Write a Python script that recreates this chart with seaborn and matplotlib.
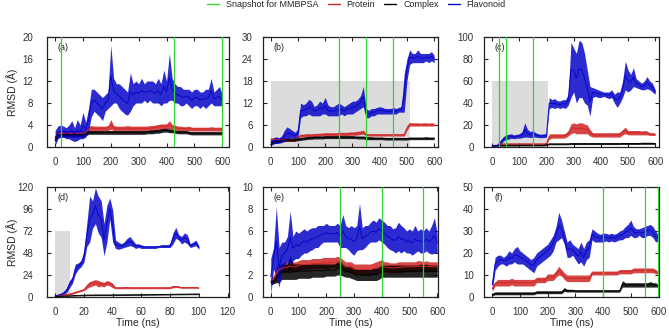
#!/usr/bin/env python3
"""
RMSD traces of protein, complex and flavonoid for six MD runs (a)-(f)
"""
import numpy as np
import pandas as pd
import seaborn as sns
import matplotlib.pyplot as plt
from matplotlib.lines import Line2D
from matplotlib.patches import Rectangle

# time grids (ns)
time_600 = np.arange(0, 601, 10)
time_100 = np.arange(0, 101, 2)

# ---- panel (a): lower / upper edge of each noisy trace ----
a_flav_lo = [0.3, 1.5, 1.8, 1.8, 1.5, 1.5, 1.2, 1.0, 1.2, 1.5,
             1.5, 1.8, 3.0, 5.5, 6.5, 6.0, 5.5, 4.8, 6.5, 7.0,
             7.5, 8.0, 8.0, 7.0, 6.5, 6.0, 5.8, 6.5, 7.5, 8.0,
             8.0, 8.0, 8.5, 8.0, 8.5, 8.0, 8.0, 8.0, 7.5, 8.0,
             8.0, 8.5, 8.5, 8.0, 8.0, 7.5, 7.5, 8.0, 7.5, 7.0,
             7.5, 7.5, 7.0, 7.5, 7.0, 7.5, 8.0, 7.5, 7.5, 7.5,
             7.5]
a_flav_hi = [3.0, 3.8, 4.0, 3.8, 3.5, 4.0, 4.8, 3.5, 5.0, 4.0,
             6.3, 4.5, 7.0, 10.5, 10.5, 10.0, 9.5, 9.0, 9.5, 10.0,
             18.5, 12.5, 11.5, 11.5, 11.0, 10.5, 10.0, 13.5, 11.5, 12.0,
             11.5, 12.5, 11.5, 12.0, 12.0, 12.0, 11.5, 12.5, 11.5, 14.0,
             12.0, 17.0, 12.5, 11.5, 11.0, 11.0, 10.5, 10.5, 10.5, 10.0,
             10.5, 10.5, 10.0, 10.0, 10.5, 10.5, 12.5, 10.0, 10.5, 11.0,
             9.5]
a_prot_lo = [1.0, 2.0, 2.0, 2.0, 2.0, 2.0, 2.0, 2.0, 2.0, 2.0,
             2.0, 2.2, 2.8, 3.0, 3.0, 3.0, 3.0, 3.0, 3.0, 3.0,
             3.2, 3.0, 3.0, 3.0, 3.0, 3.0, 3.0, 3.0, 3.0, 3.0,
             3.0, 3.0, 3.0, 3.0, 3.0, 3.0, 3.1, 3.2, 3.2, 3.3,
             3.3, 3.3, 3.2, 3.1, 3.0, 3.0, 3.0, 3.0, 3.0, 2.9,
             2.9, 2.9, 2.9, 2.9, 2.9, 2.9, 2.9, 2.9, 2.9, 2.9,
             2.9]
a_prot_hi = [2.0, 3.0, 3.0, 3.0, 3.0, 3.0, 3.0, 3.0, 3.0, 3.0,
             3.0, 3.2, 3.8, 3.9, 3.8, 3.8, 3.8, 3.8, 3.8, 3.9,
             5.0, 3.9, 3.8, 3.8, 3.8, 3.8, 3.9, 3.8, 3.8, 3.8,
             3.8, 3.8, 3.8, 3.8, 3.9, 3.9, 4.0, 4.1, 4.2, 4.2,
             4.2, 4.8, 4.1, 4.0, 3.8, 3.8, 3.7, 3.7, 3.8, 3.6,
             3.6, 3.6, 3.6, 3.6, 3.6, 3.6, 3.7, 3.6, 3.6, 3.6,
             3.6]
a_cplx_lo = [0.8, 1.8, 1.8, 1.8, 1.8, 1.8, 1.8, 1.8, 1.8, 1.8,
             1.8, 2.0, 2.3, 2.3, 2.3, 2.3, 2.3, 2.3, 2.3, 2.3,
             2.3, 2.3, 2.3, 2.3, 2.3, 2.3, 2.3, 2.3, 2.3, 2.3,
             2.3, 2.3, 2.3, 2.4, 2.4, 2.4, 2.5, 2.5, 2.6, 2.7,
             2.7, 2.6, 2.6, 2.5, 2.4, 2.4, 2.4, 2.4, 2.3, 2.2,
             2.2, 2.2, 2.2, 2.2, 2.2, 2.2, 2.2, 2.2, 2.2, 2.2,
             2.2]
a_cplx_hi = [1.5, 2.6, 2.6, 2.6, 2.6, 2.6, 2.6, 2.6, 2.6, 2.6,
             2.6, 2.7, 3.0, 3.0, 3.0, 3.0, 3.0, 3.0, 3.0, 3.0,
             3.0, 3.0, 3.0, 3.0, 3.0, 3.0, 3.0, 3.0, 3.0, 3.0,
             3.0, 3.0, 3.0, 3.0, 3.1, 3.1, 3.2, 3.2, 3.3, 3.4,
             3.4, 3.3, 3.2, 3.1, 3.0, 3.0, 3.0, 3.0, 2.9, 2.8,
             2.8, 2.8, 2.8, 2.8, 2.8, 2.8, 2.8, 2.8, 2.8, 2.8,
             2.8]

# ---- panel (b) ----
b_flav_lo = [0.5, 0.8, 1.0, 1.0, 1.2, 1.5, 2.0, 2.5, 2.5, 2.0,
             2.5, 8.0, 8.5, 8.5, 9.0, 8.5, 8.5, 8.5, 8.5, 9.0,
             9.0, 8.5, 8.5, 8.5, 8.5, 8.5, 9.0, 8.5, 9.0, 9.0,
             9.0, 9.5, 10.0, 10.5, 11.0, 8.0, 8.0, 8.5, 8.5, 9.0,
             9.0, 9.0, 9.0, 9.0, 9.0, 9.0, 9.0, 9.5, 9.5, 9.5,
             18.0, 22.5, 23.0, 23.0, 23.0, 23.0, 23.0, 23.5, 23.0, 23.5,
             23.0]
b_flav_hi = [2.0, 2.5, 2.8, 2.5, 3.0, 4.5, 5.5, 5.0, 4.5, 4.0,
             5.0, 12.0, 11.5, 12.0, 13.0, 12.5, 11.0, 11.5, 12.5, 12.0,
             13.5, 11.5, 11.0, 11.0, 11.5, 12.0, 11.5, 11.0, 11.5, 12.0,
             12.5, 12.5, 13.0, 14.0, 16.5, 10.5, 10.0, 10.5, 10.5, 10.8,
             11.0, 10.8, 10.5, 10.5, 10.5, 10.8, 10.5, 10.8, 11.0, 20.0,
             24.0, 26.5, 25.5, 25.5, 26.5, 25.5, 25.5, 25.5, 25.5, 26.0,
             25.0]
b_prot_lo = [1.5, 1.5, 1.5, 1.5, 1.5, 1.5, 1.5, 1.5, 1.5, 1.5,
             2.5, 2.7, 2.7, 2.8, 2.8, 2.8, 2.8, 2.9, 2.9, 3.0,
             3.0, 3.0, 3.0, 3.0, 3.0, 3.1, 3.1, 3.1, 3.1, 3.2,
             3.2, 3.2, 3.3, 3.4, 3.5, 3.0, 3.0, 3.0, 3.0, 3.0,
             3.0, 3.0, 3.0, 3.0, 3.0, 3.0, 3.0, 3.0, 3.0, 3.0,
             4.5, 5.7, 5.7, 5.7, 5.7, 5.7, 5.7, 5.7, 5.7, 5.7,
             5.7]
b_prot_hi = [2.5, 2.5, 2.5, 2.5, 2.5, 2.5, 2.5, 2.5, 2.5, 2.5,
             3.0, 3.5, 3.5, 3.6, 3.6, 3.6, 3.7, 3.7, 3.8, 3.8,
             3.9, 3.9, 3.9, 3.9, 3.9, 4.0, 4.0, 4.0, 4.0, 4.1,
             4.1, 4.2, 4.3, 4.4, 4.6, 3.7, 3.6, 3.6, 3.6, 3.6,
             3.6, 3.6, 3.6, 3.6, 3.6, 3.6, 3.6, 3.6, 3.6, 3.8,
             5.8, 6.7, 6.6, 6.6, 6.6, 6.5, 6.6, 6.6, 6.5, 6.6,
             6.5]
b_cplx_lo = [0.3, 1.0, 1.0, 1.2, 1.3, 1.5, 1.6, 1.6, 1.6, 1.6,
             1.7, 1.8, 1.9, 2.0, 2.1, 2.1, 2.2, 2.2, 2.2, 2.2,
             2.3, 2.3, 2.3, 2.3, 2.3, 2.3, 2.3, 2.3, 2.3, 2.3,
             2.3, 2.3, 2.2, 2.2, 2.2, 2.0, 2.0, 2.0, 2.0, 2.0,
             2.0, 2.0, 1.9, 1.9, 1.9, 1.9, 1.9, 1.9, 1.9, 1.9,
             1.9, 2.0, 2.0, 2.0, 2.0, 2.0, 2.0, 2.0, 2.0, 2.0,
             2.0]
b_cplx_hi = [1.0, 1.8, 1.8, 2.0, 2.1, 2.3, 2.4, 2.4, 2.4, 2.4,
             2.5, 2.6, 2.7, 2.8, 2.9, 2.9, 3.0, 3.0, 3.0, 3.0,
             3.1, 3.1, 3.1, 3.1, 3.1, 3.1, 3.1, 3.1, 3.1, 3.1,
             3.1, 3.0, 3.0, 3.0, 3.0, 2.8, 2.8, 2.8, 2.7, 2.7,
             2.7, 2.7, 2.6, 2.6, 2.6, 2.6, 2.6, 2.6, 2.6, 2.6,
             2.6, 2.7, 2.7, 2.7, 2.7, 2.7, 2.7, 2.8, 2.7, 2.7,
             2.7]

# ---- panel (c) ----
c_flav_lo = [0.3, 0.5, 0.5, 2.0, 5.0, 7.0, 7.0, 8.0, 7.5, 8.0,
             8.0, 8.5, 9.0, 9.0, 8.5, 9.0, 9.0, 8.5, 8.5, 8.5,
             9.0, 35.0, 36.0, 35.0, 36.0, 35.0, 36.0, 35.0, 38.0, 45.0,
             50.0, 40.0, 45.0, 45.0, 40.0, 38.0, 28.0, 45.0, 46.0, 45.0,
             45.0, 46.0, 45.0, 44.0, 45.0, 40.0, 36.0, 40.0, 45.0, 52.0,
             50.0, 52.0, 55.0, 54.0, 53.0, 52.0, 52.0, 53.0, 52.0, 50.0,
             48.0]
c_flav_hi = [2.0, 2.0, 2.5, 6.0, 9.0, 11.0, 11.5, 12.0, 11.0, 11.5,
             12.0, 14.0, 22.0, 16.0, 14.0, 15.0, 13.0, 12.0, 11.5, 12.0,
             12.0, 45.0, 43.0, 44.0, 42.0, 42.0, 43.0, 43.0, 48.0, 95.0,
             90.0, 85.0, 97.0, 95.0, 85.0, 70.0, 55.0, 54.0, 53.0, 52.0,
             51.0, 50.0, 50.0, 50.0, 52.0, 48.0, 50.0, 50.0, 60.0, 78.0,
             70.0, 66.0, 72.0, 62.0, 60.0, 58.0, 60.0, 64.0, 60.0, 58.0,
             52.0]
c_prot_lo = [0.5, 1.0, 1.0, 2.0, 2.0, 2.0, 2.0, 2.0, 2.0, 2.0,
             2.0, 2.0, 2.0, 2.0, 2.0, 2.0, 2.0, 2.0, 2.0, 2.0,
             2.0, 7.0, 8.0, 8.0, 8.0, 8.0, 8.0, 8.5, 10.0, 12.0,
             13.0, 12.0, 12.0, 12.0, 12.0, 12.0, 10.0, 9.0, 9.0, 9.0,
             9.0, 9.0, 9.0, 9.0, 9.0, 9.0, 9.0, 9.0, 11.0, 12.0,
             11.0, 11.0, 11.0, 11.0, 11.0, 11.0, 11.0, 11.0, 10.5, 10.5,
             10.5]
c_prot_hi = [1.5, 2.0, 2.0, 3.5, 3.5, 3.5, 3.5, 3.5, 3.5, 3.5,
             3.5, 3.5, 3.5, 3.5, 3.5, 3.5, 3.5, 3.5, 3.5, 3.5,
             4.0, 12.0, 12.0, 12.0, 12.0, 12.0, 12.0, 12.5, 15.0, 21.0,
             22.0, 21.0, 22.0, 22.0, 21.0, 20.0, 16.0, 13.0, 13.0, 13.0,
             13.0, 13.0, 13.0, 13.0, 13.0, 13.0, 13.0, 13.5, 16.0, 18.0,
             15.0, 15.0, 15.0, 15.0, 15.0, 14.5, 15.0, 14.5, 13.0, 13.0,
             12.5]
c_cplx_lo = [0.2, 0.8, 0.8, 0.8, 0.8, 0.8, 0.9, 0.9, 0.9, 0.9,
             1.0, 1.0, 1.0, 1.0, 1.0, 1.0, 1.0, 1.0, 1.0, 1.0,
             1.5, 2.0, 2.0, 2.0, 2.0, 2.0, 2.0, 2.0, 2.0, 2.2,
             2.2, 2.2, 2.2, 2.2, 2.2, 2.2, 2.2, 2.2, 2.2, 2.2,
             2.2, 2.2, 2.2, 2.2, 2.2, 2.2, 2.2, 2.2, 2.3, 2.3,
             2.3, 2.3, 2.3, 2.3, 2.3, 2.4, 2.4, 2.4, 2.4, 2.4,
             2.4]
c_cplx_hi = [0.8, 2.0, 2.0, 2.0, 2.0, 2.0, 2.2, 2.2, 2.2, 2.2,
             2.2, 2.2, 2.2, 2.2, 2.2, 2.2, 2.2, 2.2, 2.2, 2.2,
             2.5, 3.5, 3.5, 3.5, 3.5, 3.5, 3.5, 3.5, 3.5, 3.8,
             3.8, 3.8, 3.8, 3.8, 3.8, 3.8, 3.8, 3.8, 3.8, 3.8,
             3.8, 3.8, 3.8, 3.8, 3.8, 3.8, 3.8, 3.8, 4.0, 4.0,
             4.0, 4.0, 4.0, 4.0, 4.0, 4.2, 4.2, 4.2, 4.2, 4.2,
             4.0]

# ---- panel (d), 0-100 ns ----
d_flav_lo = [0.5, 1.0, 2.0, 3.0, 5.0, 10.0, 15.0, 25.0, 30.0, 33.0,
             38.0, 55.0, 60.0, 75.0, 80.0, 70.0, 65.0, 45.0, 60.0, 85.0,
             60.0, 53.0, 52.0, 53.0, 54.0, 55.0, 56.0, 55.0, 53.0, 54.0,
             53.0, 53.0, 53.0, 53.0, 53.0, 53.0, 54.0, 54.0, 54.0, 54.0,
             54.0, 58.0, 64.0, 62.0, 58.0, 60.0, 58.0, 54.0, 55.0, 56.0,
             52.0]
d_flav_hi = [1.5, 3.0, 4.0, 6.0, 10.0, 18.0, 22.0, 36.0, 37.0, 40.0,
             50.0, 80.0, 110.0, 105.0, 119.0, 110.0, 105.0, 80.0, 100.0, 108.0,
             95.0, 62.0, 60.0, 58.0, 60.0, 64.0, 66.0, 62.0, 58.0, 58.0,
             57.0, 56.0, 56.0, 56.0, 56.0, 56.0, 56.0, 57.0, 57.0, 57.0,
             58.0, 70.0, 76.0, 68.0, 66.0, 70.0, 68.0, 58.0, 60.0, 62.0,
             56.0]
d_prot_lo = [0.3, 0.5, 1.0, 1.5, 2.0, 2.5, 3.0, 4.0, 5.0, 6.0,
             7.0, 9.0, 11.0, 12.0, 13.0, 11.0, 12.0, 11.0, 13.0, 12.0,
             10.0, 9.0, 9.0, 9.0, 9.0, 9.0, 9.0, 9.0, 9.0, 9.0,
             9.0, 9.0, 9.0, 9.0, 9.0, 9.0, 9.0, 9.0, 9.0, 9.0,
             9.0, 10.0, 10.5, 10.0, 9.5, 9.5, 9.5, 9.5, 9.5, 9.5,
             9.5]
d_prot_hi = [1.0, 1.5, 2.0, 3.0, 3.5, 4.0, 5.0, 6.0, 7.0, 8.0,
             9.0, 14.0, 17.0, 18.0, 19.0, 18.0, 17.0, 16.0, 18.0, 17.0,
             15.0, 11.0, 11.0, 11.0, 11.0, 11.5, 11.0, 11.0, 11.0, 11.0,
             11.0, 11.0, 11.0, 11.0, 11.0, 11.0, 11.0, 11.0, 11.0, 11.0,
             11.0, 12.5, 12.5, 12.0, 11.0, 11.0, 11.0, 11.0, 11.0, 11.0,
             10.5]
d_cplx_lo = [0.2, 0.4, 0.5, 0.6, 0.7, 0.8, 0.9, 1.0, 1.1, 1.2,
             1.3, 1.4, 1.5, 1.5, 1.5, 1.5, 1.5, 1.5, 1.5, 1.5,
             1.5, 1.6, 1.6, 1.6, 1.7, 1.7, 1.7, 1.8, 1.8, 1.8,
             1.9, 1.9, 1.9, 2.0, 2.0, 2.0, 2.1, 2.1, 2.1, 2.2,
             2.2, 2.3, 2.3, 2.4, 2.4, 2.4, 2.5, 2.5, 2.5, 2.5,
             2.5]
d_cplx_hi = [0.5, 1.0, 1.2, 1.4, 1.6, 1.8, 2.0, 2.2, 2.3, 2.4,
             2.5, 2.6, 2.7, 2.7, 2.8, 2.8, 2.8, 2.8, 2.8, 2.8,
             2.8, 2.9, 2.9, 2.9, 3.0, 3.0, 3.0, 3.0, 3.1, 3.1,
             3.1, 3.1, 3.2, 3.2, 3.2, 3.3, 3.3, 3.3, 3.4, 3.4,
             3.5, 3.6, 3.6, 3.7, 3.7, 3.7, 3.8, 3.8, 3.8, 3.9,
             3.8]

# ---- panel (e) ----
e_flav_lo = [0.2, 2.5, 2.0, 0.9, 2.5, 3.0, 3.2, 3.0, 3.3, 3.5,
             3.5, 3.8, 4.0, 4.0, 4.2, 4.3, 4.5, 4.5, 4.8, 5.0,
             5.0, 5.0, 5.0, 5.0, 5.0, 4.5, 4.5, 4.5, 4.3, 4.0,
             3.8, 4.2, 4.3, 4.3, 4.5, 4.8, 5.0, 5.0, 5.0, 5.2,
             5.0, 4.8, 4.5, 4.3, 4.2, 4.0, 4.2, 4.0, 4.2, 4.0,
             4.0, 3.8, 4.0, 4.2, 4.0, 4.0, 4.2, 4.0, 3.9, 4.0,
             4.0]
e_flav_hi = [3.5, 4.5, 8.2, 4.5, 5.0, 5.0, 5.5, 7.8, 5.5, 6.0,
             5.8, 6.0, 6.2, 6.0, 6.2, 6.3, 6.3, 6.5, 6.5, 6.5,
             6.7, 6.5, 6.5, 6.5, 6.7, 6.5, 7.5, 6.5, 6.3, 6.5,
             6.3, 6.5, 8.5, 6.3, 6.5, 6.5, 6.8, 7.0, 6.8, 7.2,
             7.0, 6.8, 6.5, 6.5, 6.2, 6.3, 6.8, 6.5, 6.3, 6.0,
             6.2, 6.0, 6.5, 6.0, 6.2, 6.0, 6.3, 6.0, 6.5, 7.2,
             5.8]
e_prot_lo = [1.2, 1.3, 1.5, 2.0, 2.2, 2.2, 2.2, 2.2, 2.3, 2.3,
             2.4, 2.5, 2.5, 2.5, 2.5, 2.6, 2.6, 2.6, 2.6, 2.6,
             2.6, 2.6, 2.7, 2.7, 2.7, 2.6, 2.5, 2.3, 2.3, 2.2,
             2.1, 2.0, 2.0, 2.0, 2.0, 2.0, 2.0, 2.1, 2.1, 2.2,
             2.2, 2.3, 2.2, 2.2, 2.2, 2.2, 2.2, 2.2, 2.3, 2.3,
             2.3, 2.3, 2.3, 2.3, 2.3, 2.3, 2.3, 2.3, 2.3, 2.3,
             2.3]
e_prot_hi = [1.8, 1.9, 2.8, 3.0, 3.0, 3.2, 3.2, 3.5, 3.2, 3.2,
             3.3, 3.4, 3.4, 3.4, 3.4, 3.5, 3.5, 3.5, 3.5, 3.6,
             3.6, 3.6, 3.6, 3.6, 3.7, 3.6, 3.4, 3.2, 3.2, 3.2,
             3.0, 3.0, 3.0, 3.0, 3.0, 3.0, 3.0, 3.1, 3.2, 3.3,
             3.4, 3.2, 3.2, 3.1, 3.1, 3.1, 3.2, 3.2, 3.2, 3.2,
             3.2, 3.2, 3.2, 3.3, 3.3, 3.2, 3.3, 3.2, 3.2, 3.2,
             3.2]
e_cplx_lo = [1.1, 1.2, 1.3, 1.3, 1.6, 1.6, 1.6, 1.6, 1.6, 1.6,
             1.7, 1.7, 1.7, 1.7, 1.7, 1.8, 1.8, 1.8, 1.8, 1.8,
             1.9, 1.9, 1.9, 1.9, 2.0, 2.0, 1.9, 1.8, 1.8, 1.7,
             1.6, 1.5, 1.5, 1.5, 1.5, 1.5, 1.5, 1.5, 1.5, 1.6,
             1.8, 1.8, 1.8, 1.8, 1.8, 1.8, 1.8, 1.8, 1.8, 1.8,
             1.8, 1.8, 1.8, 1.8, 1.8, 1.8, 1.8, 1.8, 1.8, 1.8,
             1.8]
e_cplx_hi = [1.6, 1.7, 2.2, 2.8, 3.0, 3.0, 3.0, 3.8, 3.0, 3.0,
             3.0, 3.0, 3.0, 3.0, 3.0, 3.0, 3.0, 3.0, 3.0, 3.0,
             3.0, 3.0, 3.0, 3.0, 3.2, 3.3, 3.0, 2.8, 2.8, 2.8,
             2.6, 2.5, 2.5, 2.5, 2.5, 2.5, 2.5, 2.6, 2.6, 2.7,
             2.9, 2.9, 2.9, 2.9, 2.9, 2.9, 2.9, 2.9, 2.9, 2.9,
             2.9, 2.9, 2.9, 2.9, 3.0, 2.9, 3.0, 2.9, 2.9, 2.9,
             2.9]

# ---- panel (f) ----
f_flav_lo = [3.0, 12.0, 14.0, 15.0, 15.0, 14.0, 15.0, 15.0, 16.0, 15.0,
             15.0, 15.0, 14.0, 13.0, 12.0, 11.0, 14.0, 15.0, 16.0, 17.0,
             18.0, 19.0, 21.0, 25.0, 26.0, 27.0, 24.0, 18.0, 18.0, 19.0,
             17.0, 15.0, 16.0, 14.0, 17.0, 18.0, 26.0, 25.0, 25.0, 25.0,
             25.0, 25.5, 25.0, 25.5, 25.0, 25.5, 26.0, 26.0, 27.0, 27.0,
             28.0, 27.0, 27.0, 28.0, 27.0, 27.0, 28.0, 28.0, 27.0, 25.0,
             25.5]
f_flav_hi = [8.0, 18.0, 19.0, 19.0, 18.0, 19.0, 21.0, 20.0, 22.0, 23.0,
             21.0, 20.0, 19.0, 18.0, 17.0, 18.0, 20.0, 21.0, 22.0, 23.0,
             24.0, 26.0, 28.0, 32.0, 38.5, 35.0, 30.0, 25.0, 26.0, 24.0,
             23.0, 22.0, 25.0, 22.0, 25.0, 26.0, 31.0, 30.0, 29.0, 28.5,
             29.0, 29.0, 28.5, 29.0, 28.5, 29.0, 30.0, 30.5, 32.0, 33.0,
             35.0, 32.0, 31.0, 31.0, 31.5, 32.0, 32.5, 33.0, 32.0, 30.0,
             28.0]
f_prot_lo = [2.5, 5.0, 5.0, 5.0, 5.0, 5.0, 5.0, 5.5, 5.0, 5.0,
             5.0, 5.0, 5.0, 5.0, 5.0, 5.0, 6.5, 6.5, 6.5, 6.5,
             7.5, 7.5, 7.5, 9.0, 10.0, 9.5, 8.0, 7.0, 7.0, 7.0,
             7.0, 7.0, 7.0, 7.0, 7.0, 7.0, 10.0, 10.0, 10.0, 10.0,
             10.0, 10.0, 10.0, 10.0, 10.0, 10.0, 10.5, 10.5, 10.5, 10.5,
             10.5, 11.0, 11.0, 11.0, 11.0, 11.0, 11.0, 11.0, 11.0, 10.5,
             10.5]
f_prot_hi = [5.0, 7.0, 8.0, 8.0, 8.0, 8.0, 8.0, 8.5, 8.0, 8.0,
             8.0, 8.0, 8.0, 8.0, 8.0, 8.0, 9.0, 9.0, 9.0, 9.0,
             10.5, 10.5, 10.5, 12.0, 14.0, 12.5, 11.0, 10.0, 10.0, 10.0,
             10.0, 10.0, 10.0, 10.0, 10.0, 10.0, 11.8, 11.8, 11.8, 11.8,
             11.8, 11.8, 11.8, 11.8, 11.8, 11.8, 12.5, 12.5, 12.5, 12.5,
             12.5, 13.2, 13.2, 13.2, 13.2, 13.2, 13.2, 13.2, 13.2, 12.5,
             11.5]
f_cplx_lo = [0.5, 1.0, 1.0, 1.0, 1.0, 1.0, 1.0, 1.0, 1.0, 1.0,
             1.0, 1.0, 1.0, 1.0, 1.0, 1.0, 1.5, 1.5, 1.5, 1.5,
             1.5, 1.5, 1.5, 1.5, 1.5, 1.5, 2.5, 2.3, 2.3, 2.3,
             2.2, 2.2, 2.2, 2.2, 2.2, 2.2, 2.2, 2.2, 2.2, 2.2,
             2.2, 2.2, 2.2, 2.2, 2.2, 2.2, 2.2, 4.5, 4.5, 4.5,
             4.5, 4.5, 4.5, 4.5, 4.5, 4.5, 4.5, 4.5, 4.5, 4.5,
             4.5]
f_cplx_hi = [1.5, 2.3, 2.3, 2.3, 2.3, 2.3, 2.3, 2.3, 2.3, 2.3,
             2.3, 2.3, 2.3, 2.3, 2.3, 2.3, 2.8, 2.8, 2.8, 2.8,
             2.8, 2.8, 2.8, 2.8, 2.8, 2.8, 4.3, 3.5, 3.5, 3.5,
             3.3, 3.3, 3.3, 3.3, 3.3, 3.3, 3.3, 3.3, 3.3, 3.3,
             3.3, 3.3, 3.3, 3.3, 3.3, 3.3, 3.3, 7.5, 6.5, 6.5,
             6.5, 6.5, 6.5, 6.5, 6.5, 6.5, 6.5, 7.0, 6.5, 6.5,
             5.5]

# snapshot times used for MM-PBSA (ns)
snap_a = [20, 425, 600]
snap_b = [250, 350, 450]
snap_c = [25, 50, 150]
snap_d = []
snap_e = [250, 400, 550]
snap_f = [400, 550, 600]

# grey equilibration boxes: (end time, height)
shade_b = (510, 18)
shade_c = (205, 60)
shade_d = (10, 72)

letters = ["(a)", "(b)", "(c)", "(d)", "(e)", "(f)"]
y_max = [20, 30, 100, 120, 10, 50]
y_step = [4, 6, 20, 24, 2, 10]
x_lims = [(-29, 624), (-28, 614), (-30, 614), (-5.7, 121), (-28, 603), (-30, 602)]

BLUE = "#0606c8"
RED = "#d12626"
BLACK = "#000000"
GREEN = "#35d035"


def draw_band(ax, t, lo, hi, color):
    """mean line plus min-max band of a noisy RMSD trace"""
    df = pd.DataFrame({"t": np.concatenate([t, t]),
                       "rmsd": np.concatenate([lo, hi])})
    sns.lineplot(data=df, x="t", y="rmsd", ax=ax, color=color, lw=0.7,
                 estimator="mean", errorbar=("pi", 100),
                 err_kws={"alpha": 0.85, "linewidth": 0})


sns.set_style("ticks")
plt.rcParams["font.family"] = ["Liberation Sans", "DejaVu Sans"]

fig = plt.figure(figsize=(6.69, 3.31), dpi=100)
W, H = 669, 331
lefts = [47, 263, 484]
widths = [182, 175, 175]
tops = [37, 187]
ax_h = 110

series = [
    (time_600, a_prot_lo, a_prot_hi, a_cplx_lo, a_cplx_hi, a_flav_lo, a_flav_hi, snap_a, None),
    (time_600, b_prot_lo, b_prot_hi, b_cplx_lo, b_cplx_hi, b_flav_lo, b_flav_hi, snap_b, shade_b),
    (time_600, c_prot_lo, c_prot_hi, c_cplx_lo, c_cplx_hi, c_flav_lo, c_flav_hi, snap_c, shade_c),
    (time_100, d_prot_lo, d_prot_hi, d_cplx_lo, d_cplx_hi, d_flav_lo, d_flav_hi, snap_d, shade_d),
    (time_600, e_prot_lo, e_prot_hi, e_cplx_lo, e_cplx_hi, e_flav_lo, e_flav_hi, snap_e, None),
    (time_600, f_prot_lo, f_prot_hi, f_cplx_lo, f_cplx_hi, f_flav_lo, f_flav_hi, snap_f, None),
]

for i, (t, p_lo, p_hi, c_lo, c_hi, f_lo, f_hi, snaps, shade) in enumerate(series):
    row, col = divmod(i, 3)
    rect = [lefts[col] / W, 1 - (tops[row] + ax_h) / H, widths[col] / W, ax_h / H]
    ax = fig.add_axes(rect)

    if shade is not None:
        ax.add_patch(Rectangle((0, 0), shade[0], shade[1], color="#dcdcdc", lw=0, zorder=0))

    draw_band(ax, t, p_lo, p_hi, RED)
    draw_band(ax, t, c_lo, c_hi, BLACK)
    draw_band(ax, t, f_lo, f_hi, BLUE)
    for s in snaps:
        ax.axvline(s, color=GREEN, lw=0.9, zorder=5)

    ax.set_xlim(*x_lims[i])
    ax.set_ylim(0, y_max[i])
    ax.set_yticks(np.arange(0, y_max[i] + 1, y_step[i]))
    if i == 3:
        ax.set_xticks(np.arange(0, 121, 20))
    else:
        ax.set_xticks(np.arange(0, 601, 100))
    ax.tick_params(direction="in", top=True, right=True, length=3, width=0.8,
                   labelsize=7, labelcolor="#333333")
    ax.tick_params(axis="x", pad=7.5)
    ax.tick_params(axis="y", pad=10 if col == 0 else 7.5)
    for sp in ax.spines.values():
        sp.set_linewidth(0.9)
        sp.set_color("#222222")

    ax.text(0.06, 0.9, letters[i], transform=ax.transAxes, fontsize=6.5,
            va="center", color="#222222")

    ax.set_xlabel("")
    ax.set_ylabel("")
    if col == 0:
        ax.set_ylabel("RMSD (Å)", fontsize=7.5)
        ax.yaxis.set_label_coords(-0.16, 0.5)
    if row == 1:
        ax.set_xlabel("Time (ns)", fontsize=7.5)
        ax.xaxis.set_label_coords(0.5, -0.195)

handles = [Line2D([], [], color=GREEN, lw=1.0),
           Line2D([], [], color=RED, lw=1.0),
           Line2D([], [], color=BLACK, lw=1.0),
           Line2D([], [], color=BLUE, lw=1.0)]
fig.legend(handles, ["Snapshot for MMBPSA", "Protein", "Complex", "Flavonoid"],
           loc="center", bbox_to_anchor=(0.533, 0.986), ncol=4, frameon=False,
           fontsize=6.5, handlelength=1.35, handletextpad=0.75, columnspacing=1.0)

fig.savefig("out.png", dpi=100)
